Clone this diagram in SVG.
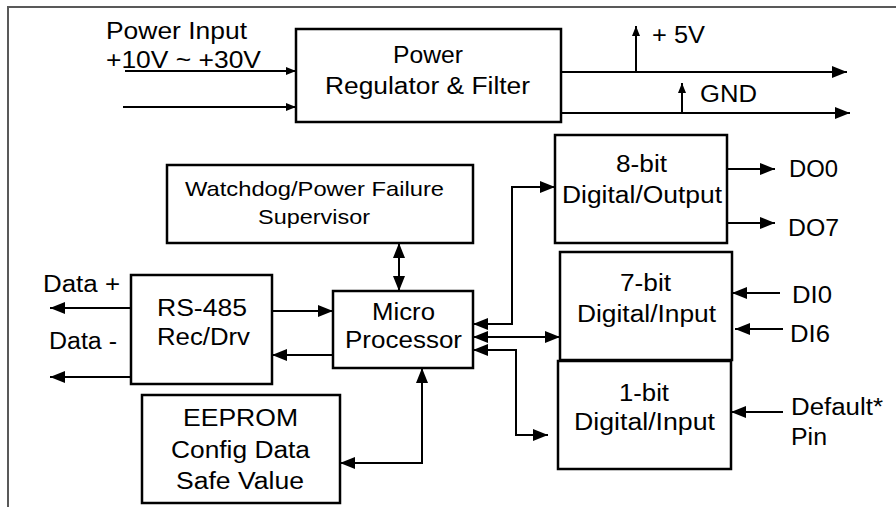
<svg xmlns="http://www.w3.org/2000/svg" width="896" height="507" viewBox="0 0 896 507">
<style>
  .box { fill: #fff; stroke: #000; stroke-width: 2.5; }
  .ln { fill: none; stroke: #000; stroke-width: 2; }
  .t { font-family: "Liberation Sans", Arial, sans-serif; font-size: 23px; fill: #000; }
  .s { font-size: 21px; }
</style>
<defs>
  <marker id="ah" viewBox="0 0 15 12" refX="15" refY="6" markerWidth="15" markerHeight="12" markerUnits="userSpaceOnUse" orient="auto-start-reverse">
    <path d="M0,0 L15,6 L0,12 z" fill="#000"/>
  </marker>
  <marker id="as" viewBox="0 0 10 8" refX="10" refY="4" markerWidth="10" markerHeight="8" markerUnits="userSpaceOnUse" orient="auto-start-reverse">
    <path d="M0,0 L10,4 L0,8 z" fill="#000"/>
  </marker>
</defs>
<rect width="896" height="507" fill="#fff"/>
<g id="frame">
  <path d="M8,507 V7 H896" fill="none" stroke="#595959" stroke-width="2"/>
</g>
<g id="connectors">
  <line class="ln" x1="125" y1="71" x2="296" y2="71" marker-end="url(#as)"/>
  <line class="ln" x1="123" y1="107" x2="296" y2="107" marker-end="url(#as)"/>
  <line class="ln" x1="558" y1="72" x2="847" y2="72" marker-end="url(#ah)"/>
  <line class="ln" x1="636" y1="72" x2="636" y2="26" marker-end="url(#as)"/>
  <line class="ln" x1="561" y1="113" x2="850" y2="113" marker-end="url(#ah)"/>
  <line class="ln" x1="682" y1="113" x2="682" y2="83" marker-end="url(#as)"/>
  <line class="ln" x1="399" y1="243" x2="399" y2="291" marker-start="url(#ah)" marker-end="url(#ah)"/>
  <line class="ln" x1="131" y1="308" x2="50" y2="308" marker-end="url(#ah)"/>
  <line class="ln" x1="131" y1="377" x2="50" y2="377" marker-end="url(#ah)"/>
  <line class="ln" x1="272" y1="311" x2="333" y2="311" marker-end="url(#ah)"/>
  <line class="ln" x1="333" y1="355" x2="272" y2="355" marker-end="url(#ah)"/>
  <path class="ln" d="M422,368 V463 H340" marker-start="url(#ah)" marker-end="url(#ah)"/>
  <path class="ln" d="M473,324 H512 V187 H555" marker-start="url(#ah)" marker-end="url(#ah)"/>
  <line class="ln" x1="473" y1="337" x2="560" y2="337" marker-start="url(#ah)" marker-end="url(#ah)"/>
  <path class="ln" d="M473,350 H516 V435 H548" marker-start="url(#ah)" marker-end="url(#ah)"/>
  <line class="ln" x1="727" y1="169" x2="775" y2="169" marker-end="url(#ah)"/>
  <line class="ln" x1="727" y1="223" x2="775" y2="223" marker-end="url(#ah)"/>
  <line class="ln" x1="780" y1="293" x2="732" y2="293" marker-end="url(#ah)"/>
  <line class="ln" x1="783" y1="329" x2="735" y2="329" marker-end="url(#ah)"/>
  <line class="ln" x1="783" y1="412" x2="731" y2="412" marker-end="url(#ah)"/>
</g>
<g id="labels">
  <text class="t" x="106" y="39" textLength="141" lengthAdjust="spacingAndGlyphs">Power Input</text>
  <text class="t" x="106" y="68" textLength="155" lengthAdjust="spacingAndGlyphs">+10V ~ +30V</text>
  <text class="t" x="652" y="43" textLength="53" lengthAdjust="spacingAndGlyphs">+ 5V</text>
  <text class="t" x="700" y="102" textLength="57" lengthAdjust="spacingAndGlyphs">GND</text>
  <text class="t" x="43" y="292" textLength="77" lengthAdjust="spacingAndGlyphs">Data +</text>
  <text class="t" x="49" y="349" textLength="68" lengthAdjust="spacingAndGlyphs">Data -</text>
  <text class="t" x="789" y="177" textLength="49" lengthAdjust="spacingAndGlyphs">DO0</text>
  <text class="t" x="788" y="236" textLength="51" lengthAdjust="spacingAndGlyphs">DO7</text>
  <text class="t" x="792" y="303" textLength="40" lengthAdjust="spacingAndGlyphs">DI0</text>
  <text class="t" x="790" y="342" textLength="40" lengthAdjust="spacingAndGlyphs">DI6</text>
  <text class="t" x="791" y="415" textLength="92" lengthAdjust="spacingAndGlyphs">Default*</text>
  <text class="t" x="791" y="445" textLength="36" lengthAdjust="spacingAndGlyphs">Pin</text>
</g>
<g id="power-regulator">
  <rect class="box" x="296" y="29" width="265" height="93"/>
  <text class="t" x="393" y="63" textLength="70" lengthAdjust="spacingAndGlyphs">Power</text>
  <text class="t" x="325" y="94" textLength="205" lengthAdjust="spacingAndGlyphs">Regulator &amp; Filter</text>
</g>
<g id="watchdog">
  <rect class="box" x="167" y="165" width="306" height="78"/>
  <text class="t s" x="185" y="196" textLength="259" lengthAdjust="spacingAndGlyphs">Watchdog/Power Failure</text>
  <text class="t s" x="258" y="224" textLength="112" lengthAdjust="spacingAndGlyphs">Supervisor</text>
</g>
<g id="rs485">
  <rect class="box" x="131" y="275" width="141" height="109"/>
  <text class="t" x="157" y="316" textLength="90" lengthAdjust="spacingAndGlyphs">RS-485</text>
  <text class="t" x="157" y="345" textLength="93" lengthAdjust="spacingAndGlyphs">Rec/Drv</text>
</g>
<g id="micro-processor">
  <rect class="box" x="333" y="291" width="140" height="77"/>
  <text class="t" x="372" y="320" textLength="63" lengthAdjust="spacingAndGlyphs">Micro</text>
  <text class="t" x="345" y="348" textLength="117" lengthAdjust="spacingAndGlyphs">Processor</text>
</g>
<g id="eeprom">
  <rect class="box" x="142" y="395" width="198" height="108"/>
  <text class="t" x="183" y="426" textLength="115" lengthAdjust="spacingAndGlyphs">EEPROM</text>
  <text class="t" x="171" y="458" textLength="139" lengthAdjust="spacingAndGlyphs">Config Data</text>
  <text class="t" x="176" y="489" textLength="128" lengthAdjust="spacingAndGlyphs">Safe Value</text>
</g>
<g id="digital-output">
  <rect class="box" x="555" y="135" width="172" height="108"/>
  <text class="t" x="616" y="172" textLength="51" lengthAdjust="spacingAndGlyphs">8-bit</text>
  <text class="t" x="562" y="203" textLength="160" lengthAdjust="spacingAndGlyphs">Digital/Output</text>
</g>
<g id="digital-input-7">
  <rect class="box" x="560" y="252" width="172" height="108"/>
  <text class="t" x="620" y="291" textLength="51" lengthAdjust="spacingAndGlyphs">7-bit</text>
  <text class="t" x="577" y="322" textLength="139" lengthAdjust="spacingAndGlyphs">Digital/Input</text>
</g>
<g id="digital-input-1">
  <rect class="box" x="558" y="361" width="173" height="108"/>
  <text class="t" x="619" y="401" textLength="50" lengthAdjust="spacingAndGlyphs">1-bit</text>
  <text class="t" x="574" y="430" textLength="141" lengthAdjust="spacingAndGlyphs">Digital/Input</text>
</g>
</svg>
